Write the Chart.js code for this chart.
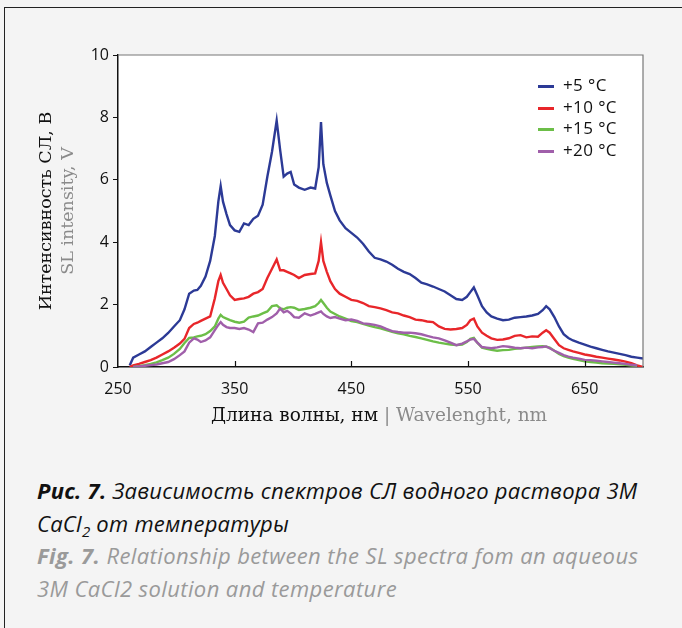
<!DOCTYPE html>
<html>
<head>
<meta charset="utf-8">
<script src="https://cdn.jsdelivr.net/npm/chart.js@4"></script>
<style>
  body { margin: 0; width: 682px; height: 628px; background: #f4f4f4; position: relative; overflow: hidden; }
  .frame { position: absolute; left: 4px; top: 7px; width: 690px; height: 640px; border-top: 1.5px solid #222; border-left: 1.5px solid #222; }
  .chart-box { position: absolute; left: 0; top: 0; width: 682px; height: 440px; }
  .ytitle { position: absolute; font-family: "DejaVu Serif", serif; font-size: 17.5px; white-space: nowrap; transform: translate(-50%, -50%) rotate(-90deg); }
  .xtitle { position: absolute; left: 379px; top: 414px; transform: translate(-50%, -50%); font-family: "DejaVu Serif", serif; font-size: 18.5px; white-space: nowrap; color: #111; }
  .gray { color: #8a8a8a; }
  .legend { position: absolute; left: 538px; top: 74px; font-family: "Open Sans", sans-serif; font-size: 17px; letter-spacing: 0.4px; color: #111; }
  .legend div { height: 21.7px; line-height: 21.7px; white-space: nowrap; }
  .legend span.swatch { display: inline-block; width: 16px; height: 3px; vertical-align: middle; margin-right: 9px; }
  .caption { position: absolute; left: 37px; top: 474px; font-family: "Open Sans", sans-serif; font-style: italic; font-size: 22px; line-height: 32.5px; }
  .caption .ru { color: #111; letter-spacing: 0.25px; }
  .caption .en { color: #9a9a9a; letter-spacing: 0.4px; }
  .caption b { font-weight: 700; }
</style>
</head>
<body>
<div class="frame"></div>
<div class="chart-box"><canvas id="chart"></canvas></div>
<div class="ytitle" style="left:45px; top:211px; color:#111;">Интенсивность СЛ, В</div>
<div class="ytitle gray" style="left:67px; top:211px;">SL intensity, V</div>
<div class="xtitle">Длина волны, нм <span class="gray">| Wavelenght, nm</span></div>
<div class="legend" id="legend"></div>
<div class="caption">
  <div class="ru"><b>Рис. 7.</b> Зависимость спектров СЛ водного раствора 3М</div>
  <div class="ru">CaCl<sub style="font-size:15px; line-height:0;">2</sub> от температуры</div>
  <div class="en"><b>Fig. 7.</b> Relationship between the SL spectra fom an aqueous</div>
  <div class="en">3M CaCl2 solution and temperature</div>
</div>
<script>
const wavelength = [
  260, 263, 268, 273, 278, 283, 288, 293, 298, 303,
  307, 311, 315, 318, 321, 325, 329, 333, 336, 338,
  340, 343, 346, 350, 354, 358, 362, 366, 370, 374,
  378, 382, 386, 389, 392, 395, 398, 401, 405, 410,
  415, 419, 422, 424, 426, 429, 432, 436, 440, 445,
  450, 455, 460, 465, 470, 475, 480, 485, 490, 495,
  500, 505, 510, 515, 520, 525, 530, 535, 540, 545,
  549, 552, 555, 558, 562, 566, 570, 575, 580, 585,
  590, 595, 600, 605, 610, 614, 617, 620, 624, 628,
  632, 636, 640, 645, 650, 655, 660, 665, 670, 675,
  680, 685, 690, 695, 700
]

const temp5 = [
  0.05, 0.3, 0.4, 0.5, 0.64, 0.78, 0.92, 1.09, 1.3, 1.5,
  1.85, 2.35, 2.45, 2.47, 2.6, 2.9, 3.4, 4.2, 5.3, 5.8,
  5.3, 4.9, 4.55, 4.38, 4.33, 4.6, 4.55, 4.75, 4.85, 5.2,
  6.1, 6.9, 7.9, 6.95, 6.1, 6.2, 6.25, 5.85, 5.75, 5.68,
  5.75, 5.72, 6.4, 7.85, 6.5, 5.9, 5.5, 5.0, 4.7, 4.45,
  4.3, 4.15, 3.95, 3.7, 3.5, 3.45, 3.38, 3.28, 3.15, 3.05,
  2.98, 2.85, 2.7, 2.65, 2.58, 2.5, 2.42, 2.3, 2.18, 2.15,
  2.25, 2.4, 2.55, 2.3, 1.95, 1.75, 1.62, 1.55, 1.5, 1.52,
  1.58, 1.6, 1.62, 1.65, 1.7, 1.82, 1.95, 1.85, 1.6, 1.3,
  1.05, 0.93, 0.85, 0.78, 0.72, 0.65, 0.6, 0.55, 0.5, 0.46,
  0.42, 0.38, 0.33, 0.3, 0.27
]

const temp10 = [
  0.0, 0.05, 0.1, 0.16, 0.22, 0.3, 0.4, 0.5, 0.62, 0.75,
  0.9, 1.25, 1.38, 1.42, 1.48, 1.55, 1.62, 2.2, 2.75, 2.95,
  2.7, 2.5, 2.3, 2.15, 2.18, 2.2, 2.25, 2.35, 2.4, 2.5,
  2.85, 3.15, 3.45, 3.1, 3.1, 3.05, 3.0, 2.95, 2.85, 2.95,
  2.98, 3.0, 3.4, 4.0, 3.4, 3.05, 2.75, 2.5, 2.35, 2.25,
  2.15, 2.12, 2.05, 1.95, 1.92, 1.88, 1.82, 1.75, 1.72, 1.65,
  1.6, 1.52, 1.5, 1.46, 1.44, 1.3, 1.22, 1.2, 1.22, 1.25,
  1.35, 1.5, 1.55, 1.3, 1.1, 1.0, 0.92, 0.87, 0.88, 0.92,
  1.0, 1.02, 0.95, 0.98, 0.97, 1.1, 1.18, 1.1, 0.9, 0.7,
  0.6, 0.55, 0.5, 0.45, 0.4, 0.37, 0.33, 0.3, 0.27, 0.24,
  0.21, 0.17, 0.12, 0.05, 0.0
]

const temp15 = [
  null, 0.0, 0.03, 0.06, 0.1, 0.15, 0.22, 0.3, 0.42, 0.58,
  0.77, 0.93, 0.95, 0.98, 1.0, 1.05, 1.15, 1.3, 1.55, 1.67,
  1.6, 1.55, 1.5, 1.45, 1.42, 1.45, 1.58, 1.62, 1.65, 1.72,
  1.78, 1.95, 1.98, 1.88, 1.85, 1.9, 1.92, 1.9, 1.83, 1.86,
  1.9, 1.95, 2.05, 2.15, 2.05, 1.9, 1.78, 1.7, 1.62, 1.55,
  1.47, 1.44, 1.38, 1.33, 1.28, 1.24, 1.18, 1.13, 1.08, 1.05,
  1.0, 0.96, 0.92, 0.87, 0.82, 0.78, 0.75, 0.72, 0.7, 0.72,
  0.8, 0.9, 0.93, 0.78, 0.62, 0.58, 0.55, 0.52, 0.54, 0.55,
  0.58, 0.6, 0.62, 0.64, 0.66, 0.67, 0.65, 0.62, 0.52, 0.42,
  0.35, 0.3, 0.26, 0.22, 0.18, 0.16, 0.14, 0.12, 0.11, 0.1,
  0.09, 0.07, 0.05, 0.04, null
]

const temp20 = [
  null, 0.0, 0.02, 0.04, 0.06, 0.08, 0.12, 0.16, 0.25, 0.38,
  0.5, 0.78, 0.92, 0.88, 0.8, 0.85, 0.95, 1.18, 1.35, 1.44,
  1.35, 1.28, 1.25, 1.25, 1.22, 1.25, 1.2, 1.12, 1.4, 1.42,
  1.52, 1.6, 1.72, 1.88, 1.75, 1.8, 1.72, 1.6, 1.58, 1.72,
  1.65, 1.7, 1.75, 1.78, 1.7, 1.62, 1.57, 1.6, 1.55, 1.5,
  1.52, 1.48, 1.4, 1.38, 1.35, 1.3, 1.22, 1.15, 1.12, 1.1,
  1.1, 1.08, 1.05, 1.0, 0.95, 0.92, 0.85, 0.78, 0.7, 0.75,
  0.82, 0.88, 0.9, 0.78, 0.64, 0.62, 0.6, 0.63, 0.67, 0.65,
  0.62, 0.6, 0.62, 0.6, 0.63, 0.64, 0.66, 0.6, 0.52, 0.45,
  0.38, 0.33, 0.3, 0.27, 0.23, 0.22, 0.2, 0.18, 0.16, 0.14,
  0.12, 0.1, 0.07, 0.05, null
]

const series_names = ['+5 °C', '+10 °C', '+15 °C', '+20 °C']
const x_ticks = [250, 350, 450, 550, 650]
const y_ticks = [0, 2, 4, 6, 8, 10]

const colors = ['rgb(44,58,150)', 'rgb(232,38,42)', 'rgb(108,190,72)', 'rgb(160,95,170)']
const all_series = [temp5, temp10, temp15, temp20]

function make_dataset(i) {
    return {
        label: series_names[i],
        data: wavelength.map((w, k) => ({x: w, y: all_series[i][k]})),
        borderColor: colors[i],
        backgroundColor: colors[i],
        borderWidth: 2.4,
        pointRadius: 0,
        tension: 0,
        order: 3 - i
    }
}

// white plot area, gray top/right border, inward x ticks
const frame_plugin = {
    id: 'frame',
    beforeDraw(chart) {
        const {ctx, chartArea: a} = chart
        ctx.save()
        ctx.fillStyle = '#ffffff'
        ctx.fillRect(a.left, a.top, a.right - a.left, a.bottom - a.top)
        ctx.restore()
    },
    afterDraw(chart) {
        const {ctx, chartArea: a, scales} = chart
        ctx.save()
        ctx.strokeStyle = '#777'
        ctx.lineWidth = 1.2
        ctx.beginPath()
        ctx.moveTo(a.left, a.top)
        ctx.lineTo(a.right, a.top)
        ctx.lineTo(a.right, a.bottom)
        ctx.stroke()
        ctx.strokeStyle = '#111'
        ctx.lineWidth = 1.2
        x_ticks.slice(1).forEach(v => {
            const px = Math.round(scales.x.getPixelForValue(v)) + 0.5
            ctx.beginPath()
            ctx.moveTo(px, a.bottom)
            ctx.lineTo(px, a.bottom - 6)
            ctx.stroke()
        })
        ctx.restore()
    }
}

const config = {
    type: 'line',
    data: { datasets: [0, 1, 2, 3].map(make_dataset) },
    options: {
        responsive: true,
        maintainAspectRatio: false,
        animation: false,
        layout: { padding: { left: 0, top: 55, right: 39, bottom: 33 } },
        plugins: { legend: { display: false }, tooltip: { enabled: false } },
        scales: {
            x: {
                type: 'linear',
                min: 250,
                max: 700,
                afterBuildTicks: s => { s.ticks = x_ticks.map(v => ({value: v})) },
                afterFit: s => { s.height = 40 },
                grid: { display: true, drawOnChartArea: false, drawTicks: false },
                border: { display: true, color: '#111', width: 1.5 },
                ticks: { color: '#111', padding: 13, maxRotation: 0, font: { family: 'Open Sans', size: 16 } }
            },
            y: {
                min: 0,
                max: 10,
                afterBuildTicks: s => { s.ticks = y_ticks.map(v => ({value: v})) },
                afterFit: s => { s.width = 118 },
                grid: { display: true, drawOnChartArea: false, drawTicks: true, tickLength: 5, color: '#111' },
                border: { display: true, color: '#111', width: 1.5 },
                ticks: { color: '#111', padding: 4, font: { family: 'Open Sans', size: 16 } }
            }
        }
    },
    plugins: [frame_plugin]
}

new Chart(document.getElementById('chart'), config)

// legend built from the series names
const legend = document.getElementById('legend')
series_names.forEach((name, i) => {
    const row = document.createElement('div')
    row.innerHTML = "<span class='swatch' style='background:" + colors[i] + "'></span>" + name
    legend.appendChild(row)
})
</script>
</body>
</html>
